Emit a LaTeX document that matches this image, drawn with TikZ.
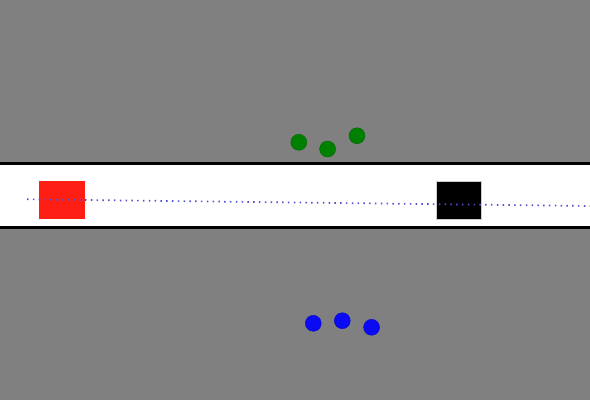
\documentclass[tikz,border=0pt]{standalone}
\usepackage{tikz}

\definecolor{bggray}{RGB}{128,128,128}
\definecolor{agentred}{RGB}{255,30,20}
\definecolor{dotblue}{RGB}{85,80,210}
\definecolor{pedgreen}{RGB}{0,128,0}
\definecolor{pedblue}{RGB}{10,10,245}

\begin{document}
\begin{tikzpicture}[x=1pt,y=-1pt]
    \tikzstyle{car}=[rectangle,inner sep=0pt,draw=black!20,line width=0.4pt]
    \tikzstyle{ego car}=[car, fill=agentred, draw=agentred, minimum width=45pt, minimum height=37pt]
    \tikzstyle{goal car}=[car, fill=black, minimum width=45pt, minimum height=38pt]
    \tikzstyle{ped}=[circle,minimum size=16pt,inner sep=0pt]
    \tikzstyle{green ped}=[ped, fill=pedgreen, draw=pedgreen!80!black]
    \tikzstyle{blue ped}=[ped, fill=pedblue, draw=pedblue!80!black]
    \tikzstyle{road edge}=[black, line width=2.5pt]
    \tikzstyle{plan path}=[dotblue, line width=1.7pt, dash pattern=on 1.5pt off 4.3pt]

    % Background and road
    \fill[bggray] (0,0) rectangle (590,400);
    \useasboundingbox (0,0) rectangle (590,400);
    \fill[white] (0,163.5) rectangle (590,227.5);
    \draw[road edge] (0,163.5) -- (590,163.5);
    \draw[road edge] (0,227.5) -- (590,227.5);

    % Draw the two cars
    \node[ego car] (ego) at (61.5,199.5) {};
    \node[goal car] (goal) at (458.5,200.5) {};

    % Planned path
    \coordinate (start) at (27,199.3);
    \coordinate (end) at (590,206);
    \draw[plan path] (start) -- (end);

    % Draw the pedestrians on both sides
    \foreach \name / \x / \y in {1/298.8/142.3, 2/327.6/149, 3/357/135.7}
        \node[green ped] (G-\name) at (\x,\y) {};
    \foreach \name / \x / \y in {1/313.3/323.3, 2/342.3/320.7, 3/371.6/327.3}
        \node[blue ped] (B-\name) at (\x,\y) {};
\end{tikzpicture}
\end{document}
